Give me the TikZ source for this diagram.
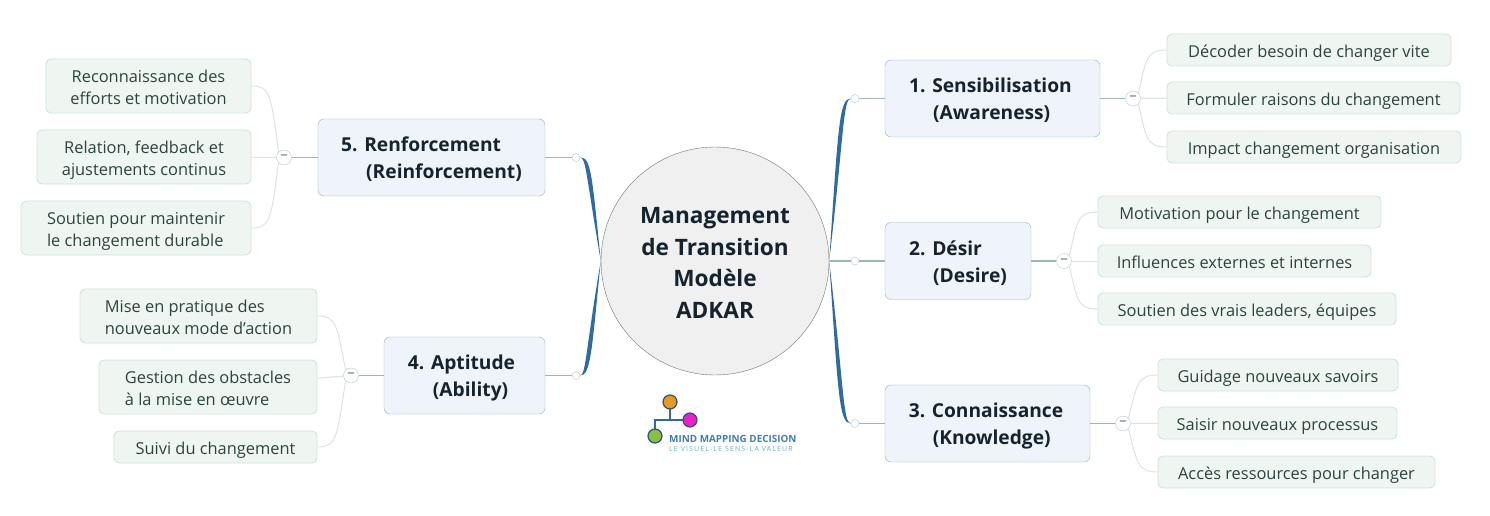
\documentclass[tikz,border=0pt]{standalone}
\usepackage{fontspec}
\setmainfont{Open Sans}
\usepackage{xcolor}
\usetikzlibrary{positioning}
\definecolor{branchblue}{HTML}{2F6AA0}
\definecolor{stemline}{HTML}{9DB3C8}
\definecolor{topicline}{HTML}{8FB0CC}
\definecolor{topicfill}{HTML}{EFF4FB}
\definecolor{topictext}{HTML}{14232F}
\definecolor{leaffill}{HTML}{EFF6F2}
\definecolor{leafline}{HTML}{CFE3DA}
\definecolor{leaftext}{HTML}{2A443F}
\definecolor{twigline}{HTML}{DCE3E0}
\definecolor{knobline}{HTML}{B6C4CE}
\definecolor{logoorange}{HTML}{E89A1E}
\definecolor{logopink}{HTML}{EE1FC8}
\definecolor{logogreen}{HTML}{8BBF3F}
\definecolor{logotext}{HTML}{3D7FB5}
\definecolor{logosub}{HTML}{62AFD8}
% struts that put the capitals in the middle of the box
\newcommand{\capc}{\rule{0pt}{27.7pt}}
\newcommand{\capt}{\rule{0pt}{22.2pt}}
\newcommand{\capl}{\rule{0pt}{20.2pt}}
\tikzset{
  x=1pt, y=-1pt,
  depthrule/.style={execute at end node={\rule[-#1]{0pt}{#1}}},
  centre/.style={depthrule=7.6pt, circle, draw=black!55, fill=black!6, minimum size=228pt, inner sep=0pt, align=center, text=topictext, font=\fontsize{22.6}{31.4}\selectfont\bfseries},
  topic/.style={depthrule=6.4pt, rectangle, rounded corners=6pt, draw=topicline, fill=topicfill, inner sep=0pt, minimum height=77pt, align=left, text=topictext, font=\fontsize{19.2}{27}\selectfont\bfseries},
  leaf/.style={depthrule=5.5pt, rectangle, rounded corners=5pt, draw=leafline, line width=0.9pt, fill=leaffill, inner sep=0pt, align=center, text=leaftext, font=\fontsize{16.4}{22}\selectfont},
  leafone/.style={leaf, minimum height=32pt},
  leaftwo/.style={leaf, minimum height=54pt},
  knob/.style={circle, draw=knobline, fill=white, minimum size=8pt, inner sep=0pt},
  minus/.style={circle, draw=knobline, fill=white, minimum size=15pt, inner sep=0pt, font=\fontsize{15}{15}\selectfont, text=black!55},
  branch/.style={fill=branchblue},
  stem/.style={draw=stemline, line width=1.3pt},
  twig/.style={draw=twigline, line width=1pt},
  dot/.style={circle, draw=branchblue!80!black, line width=1.2pt, minimum size=14pt, inner sep=0pt},
}
\begin{document}
\begin{tikzpicture}
\useasboundingbox (0,0) rectangle (1490,516);
	% Centre
\node [centre] (c) at (715,261) {\capc Management\\de Transition\\Modèle\\ADKAR};

	% Topics on the right
\node [topic, minimum width=215pt] (t1) at (992.5,98.5) {\capt 1. Sensibilisation\hspace*{4pt}\\\hspace*{24pt}(Awareness)};
\node [topic, minimum width=146pt] (t2) at (958,261) {\capt 2. Désir\\\hspace*{24pt}(Desire)};
\node [topic, minimum width=205pt] (t3) at (987.5,423.5) {\capt 3. Connaissance\hspace*{3pt}\\\hspace*{24pt}(Knowledge)};
	% Topics on the left
\node [topic, minimum width=227pt] (t5) at (431.5,157.5) {\capt 5. Renforcement\\\hspace*{25pt}(Reinforcement)};
\node [topic, minimum width=161pt] (t4) at (464.5,375.5) {\capt 4. Aptitude\hspace*{6pt}\\\hspace*{25pt}(Ability)};

\node [knob] (k1) at (855,98.5) {};
\node [knob] (k2) at (855,261) {};
\node [knob] (k3) at (855,423.5) {};
\node [knob] (k5) at (576,157.5) {};
\node [knob] (k4) at (576,375.5) {};
\node [minus] (m1) at (1133,98.5) {–};
\node [minus] (m2) at (1064,261) {–};
\node [minus] (m3) at (1123,423.5) {–};
\node [minus] (m5) at (284,157.5) {–};
\node [minus] (m4) at (351,375.5) {–};

	% Leaves
\node [leafone, minimum width=284pt] (a1) at (1309,50) {\capl Décoder besoin de changer vite};
\node [leafone, minimum width=293pt] (a2) at (1313.5,98) {\capl Formuler raisons du changement};
\node [leafone, minimum width=294pt] (a3) at (1314,147) {\capl Impact changement organisation};
\node [leafone, minimum width=283pt] (b1) at (1239.5,212) {\capl Motivation pour le changement};
\node [leafone, minimum width=273pt] (b2) at (1234.5,261) {\capl Influences externes et internes};
\node [leafone, minimum width=298pt] (b3) at (1247,309) {\capl Soutien des vrais leaders, équipes};
\node [leafone, minimum width=240pt] (d1) at (1278,375) {\capl Guidage nouveaux savoirs};
\node [leafone, minimum width=239pt] (d2) at (1277.5,423) {\capl Saisir nouveaux processus};
\node [leafone, minimum width=277pt] (d3) at (1296.5,472) {\capl Accès ressources pour changer};
\node [leaftwo, minimum width=205pt] (e1) at (148.5,86) {\capl Reconnaissance des\\efforts et motivation};
\node [leaftwo, minimum width=214pt] (e2) at (144,157) {\capl Relation, feedback et\\ajustements continus};
\node [leaftwo, minimum width=230pt, align=left] (e3) at (136,228) {\capl Soutien pour maintenir\\le changement durable};
\node [leaftwo, minimum width=237pt, align=left] (f1) at (198.5,316) {\capl Mise en pratique des\\nouveaux mode d'action};
\node [leaftwo, minimum width=218pt, align=left] (f2) at (208,387) {\capl Gestion des obstacles\\à la mise en œuvre};
\node [leafone, minimum width=203pt] (f3) at (215.5,447) {\capl Suivi du changement};

	% Branches
\fill [branch] (c.east) .. controls (838,130) and (839,98) .. (k1.west) .. controls (843,99) and (844,135) .. (c.east);
\fill [branch] (c.east) .. controls (838,392) and (839,424) .. (k3.west) .. controls (843,423) and (844,387) .. (c.east);
\fill [branch] (c.west) .. controls (592,175) and (591,157) .. (k5.east) .. controls (586,158) and (586,175) .. (c.west);
\fill [branch] (c.west) .. controls (592,347) and (591,376) .. (k4.east) .. controls (586,375) and (586,347) .. (c.west);
\draw [stem] (c.east) -- (k2);
\draw [stem] (k1) -- (t1);
\draw [stem] (k2) -- (t2);
\draw [stem] (k3) -- (t3);
\draw [stem] (k5) -- (t5);
\draw [stem] (k4) -- (t4);
\draw [stem] (t1) -- (m1);
\draw [stem] (t2) -- (m2);
\draw [stem] (t3) -- (m3);
\draw [stem] (t5) -- (m5);
\draw [stem] (t4) -- (m4);

	% Twigs
\draw [twig] (m1.north east) .. controls (1146,60) and (1146,50) .. (a1.west);
\draw [twig] (m1) -- (a2);
\draw [twig] (m1.south east) .. controls (1146,137) and (1146,147) .. (a3.west);
\draw [twig] (m2.north east) .. controls (1077,222) and (1077,212) .. (b1.west);
\draw [twig] (m2) -- (b2);
\draw [twig] (m2.south east) .. controls (1077,299) and (1077,309) .. (b3.west);
\draw [twig] (m3.north east) .. controls (1137,385) and (1137,375) .. (d1.west);
\draw [twig] (m3) -- (d2);
\draw [twig] (m3.south east) .. controls (1137,462) and (1137,472) .. (d3.west);
\draw [twig] (m5.north west) .. controls (271,96) and (271,86) .. (e1.east);
\draw [twig] (m5) -- (e2);
\draw [twig] (m5.south west) .. controls (271,218) and (271,228) .. (e3.east);
\draw [twig] (m4.north west) .. controls (337,326) and (337,316) .. (f1.east);
\draw [twig] (m4) -- (f2);
\draw [twig] (m4.south west) .. controls (337,437) and (337,447) .. (f3.east);

	% Logo
\coordinate (j1) at (670,420);
\coordinate (j2) at (655,420);
\draw [branchblue, line width=1.3pt] (670,402) -- (j1);
\draw [branchblue, line width=1.3pt] (690,420) -- (j2) -- (655,436);
\node [dot, fill=logoorange] (o1) at (670,402) {};
\node [dot, fill=logopink] (o2) at (690,420) {};
\node [dot, fill=logogreen] (o3) at (655,436) {};
\node [font=\fontsize{9.9}{9.9}\selectfont\bfseries, text=logotext, anchor=west, inner sep=0pt] (l1) at (669,439) {MIND MAPPING DECISION};
\node [font=\fontsize{7}{7}\selectfont\addfontfeatures{LetterSpace=16}, text=logosub, anchor=west, inner sep=0pt] (l2) at (669,449) {LE VISUEL-LE SENS-LA VALEUR};
\end{tikzpicture}
\end{document}
